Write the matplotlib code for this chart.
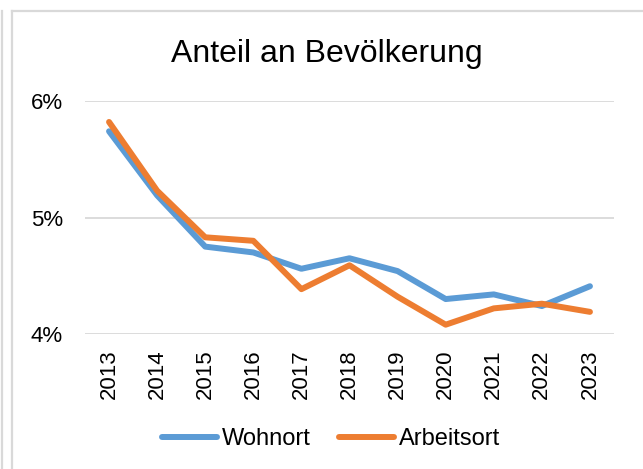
import matplotlib
matplotlib.use("Agg")
import matplotlib.pyplot as plt
from matplotlib.lines import Line2D
from matplotlib.ticker import FuncFormatter

years = ["2013", "2014", "2015", "2016", "2017", "2018", "2019", "2020", "2021", "2022", "2023"]
wohnort = [5.74, 5.19, 4.75, 4.70, 4.56, 4.65, 4.54, 4.30, 4.34, 4.24, 4.41]
arbeitsort = [5.82, 5.23, 4.83, 4.80, 4.385, 4.59, 4.32, 4.08, 4.22, 4.26, 4.19]
series_names = ["Wohnort", "Arbeitsort"]
title = "Anteil an Bevölkerung"
yticks = [4, 5, 6]

plt.rcParams['font.family'] = ['Liberation Sans', 'DejaVu Sans']

W, H = 643, 469
fig = plt.figure(figsize=(W / 100, H / 100), dpi=100)
ax = fig.add_axes([85 / W, (H - 334) / H, 529 / W, 233 / H])

x = list(range(len(years)))
blue = "#5b9bd5"
orange = "#ed7d31"
ax.plot(x, wohnort, color=blue, lw=4.3, solid_joinstyle='round', solid_capstyle='round', label=series_names[0], zorder=3)
ax.plot(x, arbeitsort, color=orange, lw=4.3, solid_joinstyle='round', solid_capstyle='round', label=series_names[1], zorder=3)

ax.set_xlim(-0.5, len(years) - 0.5)
ax.set_ylim(4, 6)
ax.set_yticks(yticks)
ax.yaxis.set_major_formatter(FuncFormatter(lambda v, p: f"{v:.0f}%"))
ax.set_xticks(x)
ax.set_xticklabels(years, rotation=90, fontsize=16)
ax.tick_params(axis='x', length=0, pad=11)
ax.tick_params(axis='y', length=0, pad=16, labelsize=16)
ax.grid(axis='y', color='#d9d9d9', lw=1.3)
ax.set_axisbelow(True)
for s in ax.spines.values():
    s.set_visible(False)

fig.text(327 / W, (H - 62) / H, title, ha='center', va='baseline', fontsize=23)

handles = [Line2D([], [], color=blue, lw=4.3, solid_capstyle='round'),
           Line2D([], [], color=orange, lw=4.3, solid_capstyle='round')]
fig.legend(handles, series_names, loc='center', bbox_to_anchor=(331 / W, (H - 439) / H),
           ncol=2, frameon=False, fontsize=17, handlelength=2.33, handletextpad=0.2,
           columnspacing=1.2, borderpad=0, borderaxespad=0)

border = '#d9d9d9'
fig.add_artist(Line2D([1.5 / W, 1.5 / W], [0, (H - 11) / H], color=border, lw=1.6, transform=fig.transFigure))
fig.add_artist(Line2D([12 / W, 12 / W], [0, (H - 11.5) / H], color=border, lw=1.6, transform=fig.transFigure))
fig.add_artist(Line2D([12 / W, 1], [(H - 11.5) / H, (H - 11.5) / H], color=border, lw=1.6, transform=fig.transFigure))

fig.savefig("out.png", dpi=100, facecolor='white')
